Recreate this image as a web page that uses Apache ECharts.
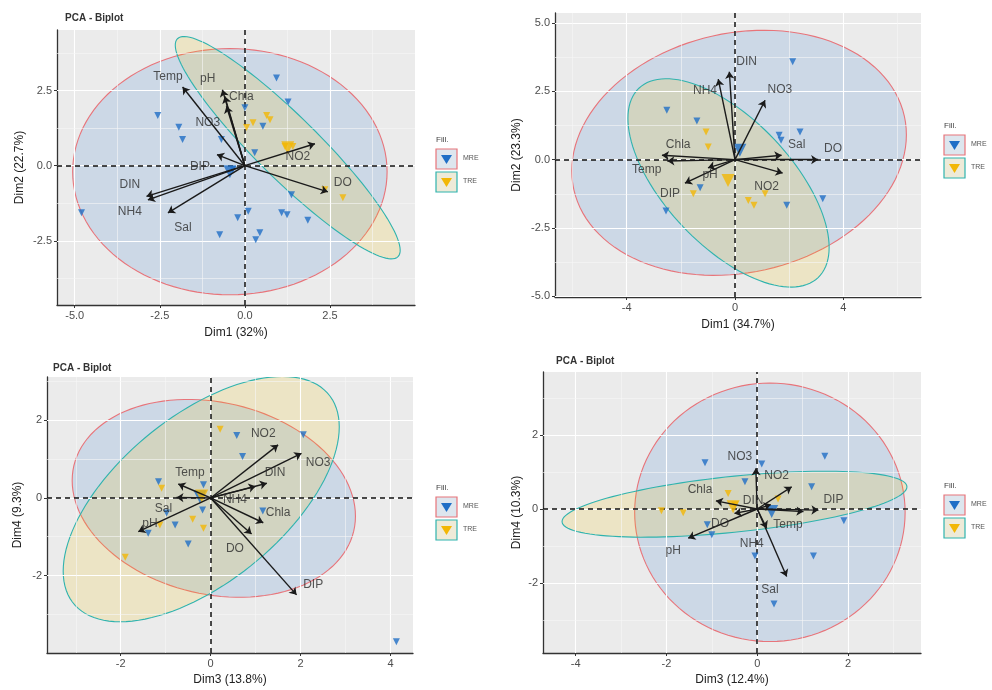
<!DOCTYPE html>
<html><head><meta charset="utf-8">
<script src="https://cdn.jsdelivr.net/npm/echarts@6/dist/echarts.min.js"></script>
<style>html,body{margin:0;padding:0;background:#fff}#c{width:992px;height:690px}</style>
</head><body><div id="c"></div>
<script>
// ---------- Panel 1 : Dim1 (32%) vs Dim2 (22.7%) ----------
const p1Vars = ['Temp','pH','Chla','NO3','DIP','DIN','NH4','Sal','NO2','DO'];
const p1Arrows = [[-1.83,2.62],[-0.66,2.53],[-0.59,2.31],[-0.54,1.98],[-0.82,0.37],[-2.89,-1.02],[-2.85,-1.14],[-2.26,-1.57],[2.06,0.73],[2.44,-0.87]];
const p1Labels = [[-2.26,2.97],[-1.09,2.9],[-0.1,2.3],[-1.09,1.43],[-1.32,-0.03],[-3.38,-0.63],[-3.38,-1.53],[-1.82,-2.07],[1.56,0.3],[2.88,-0.57]];
const p1Mre = [[0.93,2.92],[1.27,2.12],[-2.56,1.67],[-1.94,1.28],[-1.83,0.87],[-0.69,0.87],[0.53,1.31],[0.0,1.93],[0.29,0.43],[-4.8,-1.57],[1.37,-0.97],[0.1,-1.52],[-0.21,-1.73],[1.08,-1.57],[1.24,-1.63],[1.85,-1.82],[-0.74,-2.3],[0.44,-2.23],[0.32,-2.47],[-0.35,-0.13]];
const p1Tre = [[0.24,1.43],[0.64,1.67],[0.74,1.53],[0.05,1.27],[1.18,0.64],[1.41,0.64],[2.35,-0.8],[2.88,-1.07]];
const p1MreMean = [-0.44,-0.2];
const p1TreMean = [1.26,0.6];
const p1MreEllipse = [-0.44,-0.2, 4.62,0, 0,4.1];
const p1TreEllipse = [1.26,0.6, 3.24,-3.63, 0.65,0.73];
const p1XTicks = [-5,-2.5,0,2.5];
const p1YTicks = [-2.5,0,2.5];

// ---------- Panel 2 : Dim1 (34.7%) vs Dim2 (23.3%) ----------
const p2Vars = ['DIN','NH4','NO3','Sal','DO','NO2','Chla','Temp','pH','DIP'];
const p2Arrows = [[-0.21,3.21],[-0.62,2.94],[1.11,2.17],[1.72,0.16],[3.07,0.0],[1.76,-0.49],[-2.7,0.16],[-2.5,-0.05],[-1.0,-0.3],[-1.85,-0.86]];
const p2Labels = [[0.43,3.58],[-1.11,2.51],[1.66,2.54],[2.28,0.56],[3.62,0.41],[1.17,-0.98],[-2.1,0.56],[-3.26,-0.36],[-0.92,-0.54],[-2.4,-1.23]];
const p2Mre = [[2.13,3.58],[-2.52,1.81],[-1.41,1.41],[2.4,1.01],[1.63,0.89],[-1.29,-1.03],[-2.55,-1.88],[1.91,-1.67],[3.24,-1.43],[1.7,0.71]];
const p2Tre = [[-1.07,1.01],[-0.99,0.46],[-1.54,-1.25],[0.49,-1.49],[0.7,-1.67],[1.11,-1.25]];
const p2MreMean = [0.18,0.34];
const p2TreMean = [-0.26,-0.76];
const p2MreEllipse = [0.15,0.25, 6.18,0.66, 0,4.43];
const p2TreEllipse = [-0.24,-0.85, 3.31,-3.46, 1.69,1.59];
const p2XTicks = [-4,0,4];
const p2YTicks = [-5,-2.5,0,2.5,5];

// ---------- Panel 3 : Dim3 (13.8%) vs Dim4 (9.3%) ----------
const p3Vars = ['NO2','NO3','DIN','NH4','Chla','DO','DIP','Temp','Sal','pH'];
const p3Arrows = [[1.5,1.37],[2.02,1.15],[1.25,0.38],[1.0,0.3],[1.17,-0.64],[0.91,-0.93],[1.91,-2.5],[-0.72,0.36],[-0.76,0.01],[-1.61,-0.87]];
const p3Labels = [[1.17,1.67],[2.39,0.9],[1.43,0.64],[0.54,-0.05],[1.5,-0.39],[0.54,-1.3],[2.28,-2.25],[-0.46,0.65],[-1.05,-0.27],[-1.35,-0.67]];
const p3Mre = [[0.58,1.61],[0.71,1.07],[2.06,1.63],[4.13,-3.71],[-0.5,-1.19],[-0.79,-0.7],[-1.16,0.42],[-0.98,-0.39],[-0.16,0.34],[-1.39,-0.91],[-0.18,-0.31],[1.16,-0.34]];
const p3Tre = [[0.21,1.77],[-1.9,-1.53],[-0.4,-0.55],[-0.16,-0.78],[-1.09,0.25],[-1.13,-0.7]];
const p3MreMean = [-0.24,0.03];
const p3TreMean = [-0.2,0.05];
const p3MreEllipse = [0.07,-0.01, 3.15,-0.46, 0,2.51];
const p3TreEllipse = [-0.21,-0.03, 3.07,1.86, 0,2.56];
const p3XTicks = [-2,0,2,4];
const p3YTicks = [-2,0,2];

// ---------- Panel 4 : Dim3 (12.4%) vs Dim4 (10.3%) ----------
const p4Vars = ['NO3','NO2','DIP','Temp','Sal','NH4','pH','DO','Chla','DIN'];
const p4Arrows = [[-0.03,1.1],[0.76,0.6],[1.35,-0.03],[1.02,-0.07],[0.65,-1.83],[0.21,-0.52],[-1.52,-0.79],[-0.5,-0.12],[-0.91,0.22],[0.3,0.12]];
const p4Labels = [[-0.38,1.41],[0.43,0.89],[1.68,0.26],[0.68,-0.43],[0.28,-2.19],[-0.12,-0.93],[-1.85,-1.13],[-0.82,-0.39],[-1.26,0.51],[-0.09,0.22]];
const p4Mre = [[-1.15,1.25],[0.1,1.22],[1.49,1.43],[-0.27,0.74],[1.2,0.6],[1.91,-0.32],[1.24,-1.27],[0.37,-2.57],[-1.1,-0.43],[-1.0,-0.7],[-0.05,-1.27]];
const p4Tre = [[-2.11,-0.05],[-1.63,-0.1],[-0.64,0.42],[-0.49,0.11],[0.46,0.27]];
const p4MreMean = [0.32,-0.07];
const p4TreMean = [-0.53,0.06];
const p4MreEllipse = [0.28,-0.09, 2.98,0, 0,3.5];
const p4TreEllipse = [-0.5,0.13, 3.8,0.47, 0,0.76];
const p4XTicks = [-4,-2,0,2];
const p4YTicks = [-2,0,2];

const groups = ['MRE','TRE'];

// ---------- styling / layout ----------
const FONT = 'Liberation Sans, Arial, sans-serif';
const BLUE = '#1f6ec6', YELLOW = '#f2b705';
const MRE_FILL = 'rgba(30,110,200,0.15)', TRE_FILL = 'rgba(240,195,0,0.16)';
const MRE_STROKE = '#e8747a', TRE_STROKE = '#2fb3ae';

const panels = [
  {grid:{left:57,top:30,width:358,height:275}, x:[-5.52,5.0], y:[-4.64,4.52], xt:p1XTicks, yt:p1YTicks, xm:[-3.75,-1.25,1.25,3.75], ym:[-3.75,-1.25,1.25,3.75], xd:1, yd:1,
   xName:'Dim1 (32%)', yName:'Dim2 (22.7%)', xGap:22, yGap:31,
   vars:p1Vars, arrows:p1Arrows, labels:p1Labels, mre:p1Mre, tre:p1Tre, mreMean:p1MreMean, treMean:p1TreMean, mreE:p1MreEllipse, treE:p1TreEllipse},
  {grid:{left:555,top:13,width:366,height:284}, x:[-6.65,6.87], y:[-5.02,5.36], xt:p2XTicks, yt:p2YTicks, xm:[-6,-2,2,6], ym:[-3.75,-1.25,1.25,3.75], xd:0, yd:1,
   xName:'Dim1 (34.7%)', yName:'Dim2 (23.3%)', xGap:22, yGap:32,
   vars:p2Vars, arrows:p2Arrows, labels:p2Labels, mre:p2Mre, tre:p2Tre, mreMean:p2MreMean, treMean:p2TreMean, mreE:p2MreEllipse, treE:p2TreEllipse},
  {grid:{left:47,top:377,width:366,height:276}, x:[-3.64,4.5], y:[-4.0,3.12], xt:p3XTicks, yt:p3YTicks, xm:[-3,-1,1,3], ym:[-3,-1,1,3], xd:0, yd:0,
   xName:'Dim3 (13.8%)', yName:'Dim4 (9.3%)', xGap:21, yGap:23,
   vars:p3Vars, arrows:p3Arrows, labels:p3Labels, mre:p3Mre, tre:p3Tre, mreMean:p3MreMean, treMean:p3TreMean, mreE:p3MreEllipse, treE:p3TreEllipse},
  {grid:{left:543,top:372,width:378,height:281}, x:[-4.72,3.61], y:[-3.9,3.71], xt:p4XTicks, yt:p4YTicks, xm:[-3,-1,1,3], ym:[-3,-1,1,3], xd:0, yd:0,
   xName:'Dim3 (12.4%)', yName:'Dim4 (10.3%)', xGap:21, yGap:20,
   vars:p4Vars, arrows:p4Arrows, labels:p4Labels, mre:p4Mre, tre:p4Tre, mreMean:p4MreMean, treMean:p4TreMean, mreE:p4MreEllipse, treE:p4TreEllipse}
];

const grids = [], xAxes = [], yAxes = [], series = [];
function fmt(d){ return v => Number(v).toFixed(d); }
function ellipse(i, e, fill, stroke){
  return {type:'custom', xAxisIndex:i, yAxisIndex:i, z:3, silent:true, clip:true,
    data:[e], encode:{x:0, y:1},
    renderItem:(params, api) => {
      const cx=api.value(0), cy=api.value(1), ux=api.value(2), uy=api.value(3), vx=api.value(4), vy=api.value(5);
      const pts=[];
      for(let k=0;k<=120;k++){ const t=2*Math.PI*k/120;
        pts.push(api.coord([cx+ux*Math.cos(t)+vx*Math.sin(t), cy+uy*Math.cos(t)+vy*Math.sin(t)])); }
      return {type:'polygon', shape:{points:pts}, style:{fill:fill, stroke:stroke, lineWidth:1.1}};
    }};
}
panels.forEach((p,i) => {
  grids.push(Object.assign({show:true, backgroundColor:'#ebebeb', borderWidth:0}, p.grid));
  const axisCommon = {type:'value', gridIndex:i, splitLine:{show:false}, nameLocation:'middle',
    nameTextStyle:{fontFamily:FONT, fontSize:12, color:'#222'},
    axisLine:{show:true, onZero:false, lineStyle:{color:'#333', width:1.3}}};
  xAxes.push(Object.assign({}, axisCommon, {min:p.x[0], max:p.x[1], name:p.xName, nameGap:p.xGap,
    axisTick:{show:true, length:3, customValues:p.xt, lineStyle:{color:'#333'}},
    axisLabel:{customValues:p.xt, formatter:fmt(p.xd), fontFamily:FONT, fontSize:11, color:'#4d4d4d', margin:5}}));
  yAxes.push(Object.assign({}, axisCommon, {min:p.y[0], max:p.y[1], name:p.yName, nameGap:p.yGap, nameRotate:90,
    axisTick:{show:true, length:3, customValues:p.yt, lineStyle:{color:'#333'}},
    axisLabel:{customValues:p.yt, formatter:fmt(p.yd), fontFamily:FONT, fontSize:11, color:'#4d4d4d', margin:5}}));
  // panel grid lines
  const gl = [];
  p.xt.forEach(v => gl.push({xAxis:v, lineStyle:{color:'#ffffff', width:1.1, type:'solid'}}));
  p.yt.forEach(v => gl.push({yAxis:v, lineStyle:{color:'#ffffff', width:1.1, type:'solid'}}));
  p.xm.forEach(v => gl.push({xAxis:v, lineStyle:{color:'#f7f7f7', width:0.6, type:'solid'}}));
  p.ym.forEach(v => gl.push({yAxis:v, lineStyle:{color:'#f7f7f7', width:0.6, type:'solid'}}));
  series.push({type:'scatter', xAxisIndex:i, yAxisIndex:i, data:[], z:1, silent:true,
    markLine:{silent:true, symbol:'none', label:{show:false}, animation:false, data:gl}});
  series.push(ellipse(i, p.mreE, MRE_FILL, MRE_STROKE));
  series.push(ellipse(i, p.treE, TRE_FILL, TRE_STROKE));
  // zero dashed lines
  series.push({type:'scatter', xAxisIndex:i, yAxisIndex:i, data:[], z:4, silent:true,
    markLine:{silent:true, symbol:'none', label:{show:false}, animation:false,
      lineStyle:{color:'#111', width:1.5, type:[5,4]}, data:[{xAxis:0},{yAxis:0}]}});
  // individuals
  series.push({type:'scatter', name:'MRE', xAxisIndex:i, yAxisIndex:i, z:5, symbol:'triangle', symbolRotate:180, symbolSize:7,
    itemStyle:{color:BLUE}, data:p.mre});
  series.push({type:'scatter', name:'TRE', xAxisIndex:i, yAxisIndex:i, z:5, symbol:'triangle', symbolRotate:180, symbolSize:7,
    itemStyle:{color:YELLOW}, data:p.tre});
  series.push({type:'scatter', xAxisIndex:i, yAxisIndex:i, z:5, symbol:'triangle', symbolRotate:180, symbolSize:13,
    itemStyle:{color:BLUE}, data:[p.mreMean]});
  series.push({type:'scatter', xAxisIndex:i, yAxisIndex:i, z:5, symbol:'triangle', symbolRotate:180, symbolSize:13,
    itemStyle:{color:YELLOW}, data:[p.treMean]});
  // variable arrows
  series.push({type:'lines', coordinateSystem:'cartesian2d', xAxisIndex:i, yAxisIndex:i, z:6, silent:true,
    symbol:['none','arrow'], symbolSize:7, lineStyle:{color:'#1a1a1a', width:1.4, opacity:1},
    data:p.arrows.map(a => ({coords:[[0,0],[a[0],a[1]]]}))});
  // variable labels
  series.push({type:'scatter', xAxisIndex:i, yAxisIndex:i, z:7, silent:true, symbolSize:1,
    itemStyle:{color:'transparent'},
    label:{show:true, position:'inside', formatter:q => q.data[2], fontFamily:FONT, fontSize:12, color:'#2b2b2b'},
    data:p.labels.map((l,k) => [l[0], l[1], p.vars[k]])});
});

// titles
const titles = [
  {text:'PCA - Biplot', left:60, top:8},
  {text:'PCA - Biplot', left:48, top:358},
  {text:'PCA - Biplot', left:551, top:351}
].map(t => Object.assign(t, {textStyle:{fontFamily:FONT, fontSize:10, fontWeight:'bold', color:'#333'}}));

// legends (ggplot style guide)
const legendPos = [[436,136],[944,122],[436,484],[944,482]];
const graphics = [];
legendPos.forEach(([lx,ly]) => {
  graphics.push({type:'text', left:lx, top:ly, style:{text:'Fill.', font:'8px '+FONT, fill:'#444'}});
  groups.forEach((g,k) => {
    const y0 = ly + 13 + k*23;
    graphics.push({type:'rect', shape:{x:lx, y:y0, width:21, height:20},
      style:{fill:k===0?'#dde6ee':'#eeead8', stroke:k===0?MRE_STROKE:TRE_STROKE, lineWidth:1.2}});
    graphics.push({type:'polygon', shape:{points:[[lx+5,y0+6],[lx+16,y0+6],[lx+10.5,y0+15]]},
      style:{fill:k===0?BLUE:YELLOW}});
    graphics.push({type:'text', left:lx+27, top:y0+6, style:{text:g, font:'7px '+FONT, fill:'#555'}});
  });
});

const chart = echarts.init(document.getElementById('c'), null, {renderer:'canvas'});
chart.setOption({animation:false, backgroundColor:'#ffffff', title:titles, grid:grids, xAxis:xAxes, yAxis:yAxes, series:series, graphic:graphics});
</script></body></html>
